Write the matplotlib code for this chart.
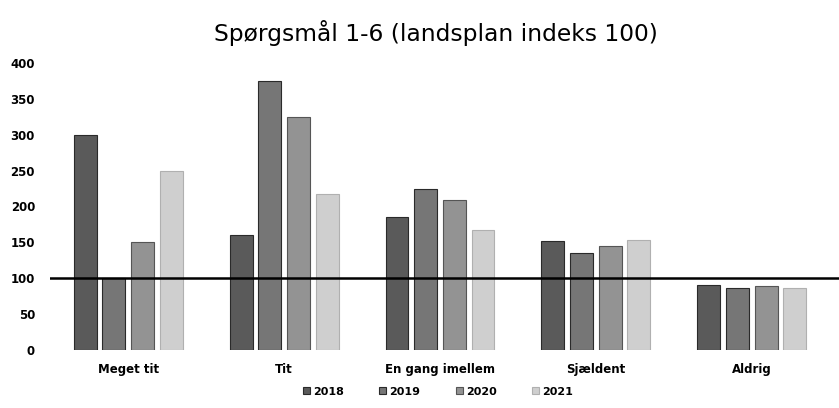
import numpy as np
import matplotlib.pyplot as plt

# data
categories = ['Meget tit', 'Tit', 'En gang imellem', 'Sjældent', 'Aldrig']
years = ['2018', '2019', '2020', '2021']
v2018 = [300, 160, 185, 152, 91]
v2019 = [100, 375, 224, 135, 86]
v2020 = [150, 324, 209, 145, 89]
v2021 = [249, 217, 167, 153, 87]
yticks = [0, 50, 100, 150, 200, 250, 300, 350, 400]
index_level = 100

series = [v2018, v2019, v2020, v2021]
colors = ['#5a5a5a', '#767676', '#939393', '#cfcfcf']
edges = ['#2a2a2a', '#2a2a2a', '#555555', '#b0b0b0']

fig = plt.figure(figsize=(8.39, 4.08), dpi=100)
ax = fig.add_axes([0.06, 0.142, 0.94, 0.704])

x = np.arange(len(categories))
pitch = 0.184
width = 0.147
for i, vals in enumerate(series):
    ax.bar(x + (i - 1.5) * pitch, vals, width, color=colors[i],
           edgecolor=edges[i], linewidth=0.8, label=years[i], zorder=2)

# landsplan indeks line
ax.axhline(index_level, color='black', linewidth=1.8, zorder=3)

ax.set_xlim(-0.5, 4.56)
ax.set_ylim(0, 400)
ax.set_yticks(yticks)
ax.set_yticklabels([str(t) for t in yticks], fontsize=8.5, fontweight='bold')
ax.set_xticks(x)
ax.set_xticklabels(categories, fontsize=8.5, fontweight='bold')
ax.tick_params(axis='x', length=0, pad=9)
ax.tick_params(axis='y', length=0, pad=11)
for s in ax.spines.values():
    s.set_visible(False)

fig.suptitle('Spørgsmål 1-6 (landsplan indeks 100)', fontsize=16.8, y=0.95, x=0.52)
fig.legend(loc='center', bbox_to_anchor=(0.522, 0.04), ncol=4, frameon=False,
           handlelength=0.6, handleheight=0.6, handletextpad=0.3, columnspacing=3.2,
           prop={'size': 8, 'weight': 'bold'})

fig.savefig('out.png', dpi=100, facecolor='white')
